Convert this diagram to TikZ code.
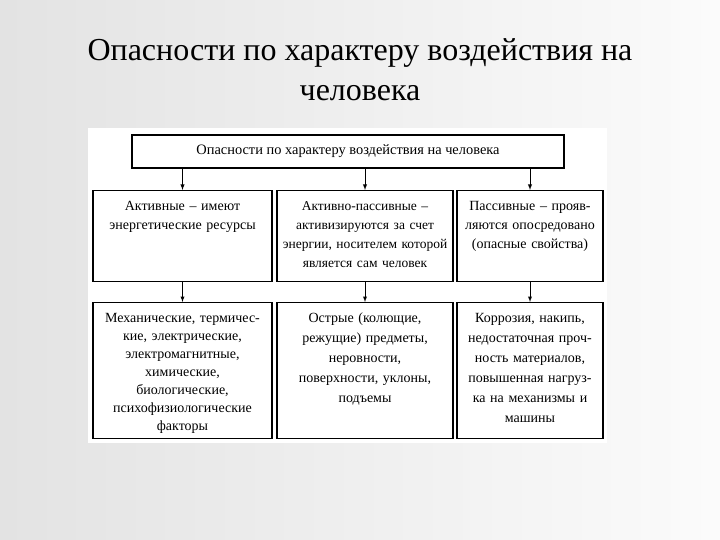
\documentclass[tikz,border=0pt]{standalone}
\usepackage{fontspec}
\setmainfont{Liberation Serif}
\usetikzlibrary{arrows,positioning}

\begin{document}
\begin{tikzpicture}[x=1pt,y=-1pt,
  cell/.style={draw,line width=1.1pt,fill=white,anchor=north,align=center,
    inner xsep=1pt,inner ysep=10pt,text height=10pt,font=\fontsize{14}{19}\selectfont},
  upper/.style={cell,text depth=61pt},
  lower/.style={cell,text depth=106pt},
  arr/.style={-latex,line width=0.9pt}]
\useasboundingbox (0,0) rectangle (720,540);
\shade[left color=gray!22,right color=gray!3] (0,0) rectangle (720,540);
\fill[white] (88,128) rectangle (607,443);

\node[align=center,font=\fontsize{32}{40}\selectfont] (title) at (360,70)
  {Опасности по характеру воздействия на\\человека};

\node[draw,line width=1.1pt,fill=white,minimum width=432pt,minimum height=33pt,
  font=\fontsize{14.4}{16}\selectfont] (top) at (348,151.5)
  {Опасности по характеру воздействия на человека};

\node[upper,text width=177pt] (act) at (182.5,190)
  {Активные – имеют\\энергетические ресурсы};
\node[upper,text width=174pt,font=\fontsize{13.5}{19}\selectfont] (actpas) at (365,190)
  {Активно-пассивные –\\активизируются за счет\\энергии, носителем которой\\является сам человек};
\node[upper,text width=144pt] (pas) at (530,190)
  {Пассивные – прояв-\\ляются опосредовано\\(опасные свойства)};

\node[lower,text width=177pt,font=\fontsize{14}{18}\selectfont] (actex) at (182.5,302)
  {Механические, термичес-\\кие, электрические,\\электромагнитные,\\химические,\\биологические,\\психофизиологические\\факторы};
\node[lower,text width=174pt,font=\fontsize{14}{20}\selectfont] (actpasex) at (365,302)
  {Острые (колющие,\\режущие) предметы,\\неровности,\\поверхности, уклоны,\\подъемы};
\node[lower,text width=144pt,font=\fontsize{14}{20}\selectfont] (pasex) at (530,302)
  {Коррозия, накипь,\\недостаточная проч-\\ность материалов,\\повышенная нагруз-\\ка на механизмы и\\машины};

\draw[arr] (act.north |- top.south) -- (act);
\draw[arr] (actpas.north |- top.south) -- (actpas);
\draw[arr] (pas.north |- top.south) -- (pas);
\draw[arr] (act.south) -- (actex);
\draw[arr] (actpas.south) -- (actpasex);
\draw[arr] (pas.south) -- (pasex);
\end{tikzpicture}
\end{document}
